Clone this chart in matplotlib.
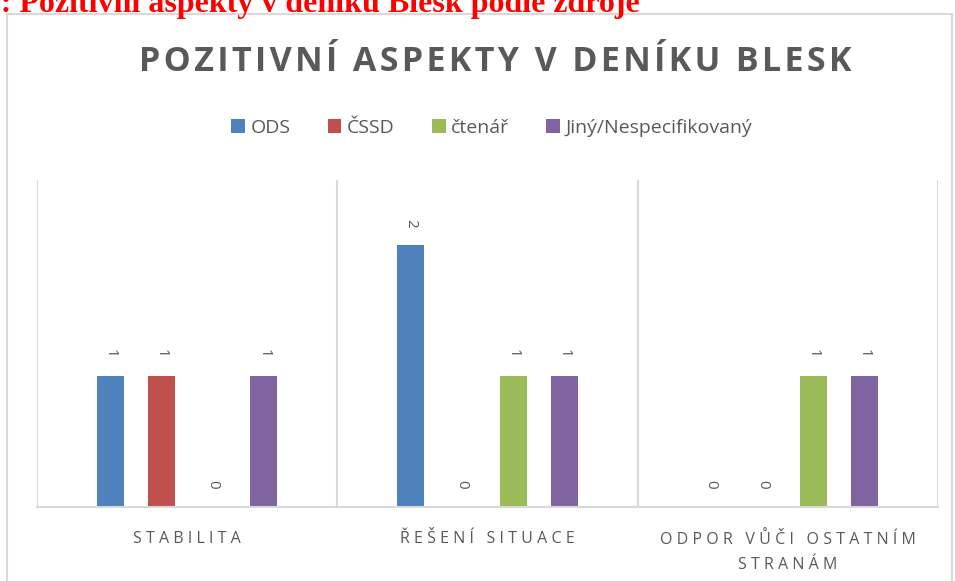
import numpy as np
import matplotlib.pyplot as plt
from matplotlib.patches import Rectangle

# data
categories = ["STABILITA", "ŘEŠENÍ SITUACE", "ODPOR VŮČI OSTATNÍM\nSTRANÁM"]
series = ["ODS", "ČSSD", "čtenář", "Jiný/Nespecifikovaný"]
ods = [1, 2, 0]
cssd = [1, 0, 0]
ctenar = [0, 1, 1]
jiny = [1, 1, 1]
colors = ["#4F81BD", "#C0504D", "#9BBB59", "#8064A2"]

GRAY = "#595959"
LIGHT = "#D9D9D9"


def spaced(s, sp="\u200a"):
    """fake letter spacing for the Excel look"""
    return "\n".join(sp.join(line) for line in s.split("\n"))


plt.rcParams["font.family"] = ["Open Sans", "DejaVu Sans"]

fig = plt.figure(figsize=(9.55, 5.81), dpi=100)
W, H = 955, 581

# chart frame
fig.patches.append(Rectangle((7 / W, -0.01), 945 / W, 1 - 14 / H + 0.01,
                             transform=fig.transFigure, fill=False,
                             edgecolor=LIGHT, linewidth=1.5))

# caption above the chart, cut at the top like in the source
fig.text(640 / W, 1 - 12 / H, "Graf 1: Pozitivní aspekty v deníku Blesk podle zdroje",
         ha="right", va="baseline", color="red", fontsize=23,
         fontweight="bold", family="Liberation Serif")

ax = fig.add_axes([37 / W, 1 - 507 / H, (938 - 37) / W, (507 - 180) / H])

x = np.arange(len(categories))
step = 0.17
width = 0.09
for i, (name, vals) in enumerate(zip(series, [ods, cssd, ctenar, jiny])):
    bars = ax.bar(x + (i - 1.5) * step, vals, width, color=colors[i], label=name)
    ax.bar_label(bars, rotation=-90, padding=13, color=GRAY, fontsize=11)

ax.set_xlim(-0.5, 2.5)
ax.set_ylim(0, 2.5)
ax.set_yticks([])
ax.set_xticks(x)
ax.set_xticklabels([spaced(c, "\u2009\u200a") for c in categories], color=GRAY,
                   fontsize=11.5, linespacing=1.8)
ax.tick_params(axis="x", length=0, pad=17)
ax.set_xticks([-0.5, 0.5, 1.5, 2.5], minor=True)
ax.tick_params(axis="x", which="minor", length=0)
ax.grid(True, axis="x", which="minor", color=LIGHT, linewidth=1.5)
for side in ["top", "right", "left"]:
    ax.spines[side].set_visible(False)
ax.spines["bottom"].set_color(LIGHT)
ax.spines["bottom"].set_linewidth(1.5)

fig.text(495 / W, 1 - 62 / H, spaced("POZITIVNÍ ASPEKTY V DENÍKU BLESK"),
         ha="center", va="center", fontsize=24.5, fontweight="bold", color=GRAY)

fig.legend(loc="center", bbox_to_anchor=(492 / W, 1 - 128 / H), ncol=4,
           frameon=False, fontsize=14, handlelength=0.7, handleheight=0.7,
           handletextpad=0.3, columnspacing=1.9, labelcolor=GRAY)

fig.savefig("out.png", dpi=100)
